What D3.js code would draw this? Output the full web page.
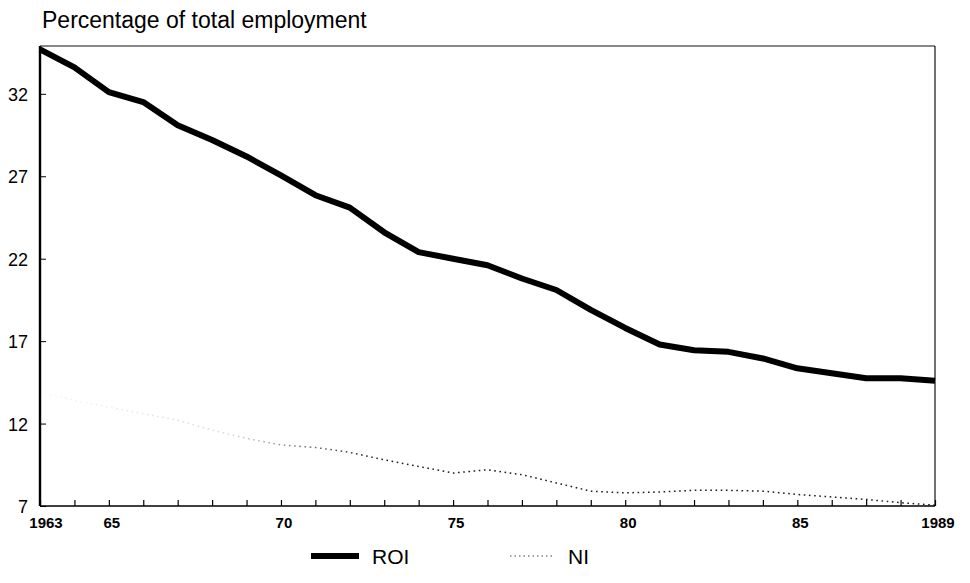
<!DOCTYPE html>
<html>
<head>
<meta charset="utf-8">
<script src="https://cdnjs.cloudflare.com/ajax/libs/d3/7.8.5/d3.min.js"></script>
<style>
  body { margin: 0; background: #fff; }
  svg { font-family: "Liberation Sans", Arial, sans-serif; }
</style>
</head>
<body>
<div id="chart"></div>
<script>

// years and series
var years = d3.range(1963, 1990);
var roi = [34.7, 33.6, 32.1, 31.5, 30.1, 29.2, 28.2, 27.05, 25.85, 25.1,
           23.6, 22.4, 22.0, 21.6, 20.8, 20.1, 18.9, 17.8, 16.8, 16.45,
           16.35, 15.95, 15.35, 15.05, 14.75, 14.75, 14.6];
var ni = [13.9, 13.4, 13.0, 12.6, 12.2, 11.6, 11.1, 10.7, 10.55, 10.25,
          9.8, 9.4, 9.0, 9.2, 8.9, 8.4, 7.9, 7.8, 7.85, 7.95,
          7.95, 7.9, 7.7, 7.55, 7.4, 7.2, 7.05];
var yTicks = [7, 12, 17, 22, 27, 32];
var xLabels = [1963, 1965, 1970, 1975, 1980, 1985, 1989];
var xLabelText = ["1963", "65", "70", "75", "80", "85", "1989"];
var seriesNames = ["ROI", "NI"];

var width = 970, height = 583;
var margin = {top: 46, right: 35, bottom: 77, left: 40};

var svg = d3.select("#chart").append("svg")
            .attr("width", width)
            .attr("height", height);

// scales
var x = d3.scaleLinear()
          .domain([1963, 1989])
          .range([margin.left, width - margin.right]);

var y = d3.scaleLinear()
          .domain([7, 34.9])
          .range([height - margin.bottom, margin.top]);

// title
svg.append("text")
   .attr("x", 42)
   .attr("y", 28)
   .style("font-size", "23px")
   .text("Percentage of total employment");

// frame: thin top and right
svg.append("line")
   .attr("x1", x(1963)).attr("x2", x(1989))
   .attr("y1", y(34.9)).attr("y2", y(34.9))
   .style("stroke", "#111").style("stroke-width", 1.2);
svg.append("line")
   .attr("x1", x(1989)).attr("x2", x(1989))
   .attr("y1", y(34.9)).attr("y2", y(7))
   .style("stroke", "#111").style("stroke-width", 1.2);

// y axis with inside ticks
var yAxis = svg.append("g")
   .attr("transform", "translate(" + x(1963) + ",0)")
   .call(d3.axisRight(y).tickValues(yTicks).tickSize(6).tickFormat(""));
yAxis.select(".domain").remove();
yAxis.append("line")
   .attr("y1", y(34.9)).attr("y2", y(7))
   .style("stroke", "#000").style("stroke-width", 2.4);

svg.append("g")
   .selectAll("text")
   .data(yTicks)
   .enter().append("text")
   .attr("x", 28)
   .attr("y", function(d) { return y(d) + 7; })
   .attr("text-anchor", "end")
   .style("font-size", "18px")
   .text(function(d) { return d; });

// x axis, a tick for every year pointing up
var xAxis = svg.append("g")
   .attr("transform", "translate(0," + y(7) + ")")
   .call(d3.axisTop(x).tickValues(years).tickSize(6).tickFormat(""));
xAxis.select(".domain").remove();
xAxis.selectAll(".tick line").style("stroke-width", 1.2);
xAxis.append("line")
   .attr("x1", x(1963)).attr("x2", x(1989))
   .style("stroke", "#000").style("stroke-width", 1.6);

svg.append("g")
   .selectAll("text")
   .data(xLabels)
   .enter().append("text")
   .attr("x", function(d) { return x(d) + (d == 1963 ? 6 : 3); })
   .attr("y", y(7) + 22)
   .attr("text-anchor", "middle")
   .style("font-size", "15px")
   .style("font-weight", "bold")
   .text(function(d, i) { return xLabelText[i]; });

// the lines
var line = d3.line()
   .x(function(d, i) { return x(years[i]); })
   .y(function(d) { return y(d); });

// NI almost vanishes on the left, like the scan
var grad = svg.append("defs").append("linearGradient")
   .attr("id", "fade")
   .attr("gradientUnits", "userSpaceOnUse")
   .attr("x1", x(1963)).attr("x2", x(1973))
   .attr("y1", 0).attr("y2", 0);
grad.append("stop").attr("offset", 0).attr("stop-color", "#000").attr("stop-opacity", 0.03);
grad.append("stop").attr("offset", 0.55).attr("stop-color", "#000").attr("stop-opacity", 0.15);
grad.append("stop").attr("offset", 0.8).attr("stop-color", "#000").attr("stop-opacity", 0.6);
grad.append("stop").attr("offset", 1).attr("stop-color", "#000").attr("stop-opacity", 0.9);

svg.append("path")
   .datum(ni)
   .attr("d", line)
   .style("fill", "none")
   .style("stroke", "url(#fade)")
   .style("stroke-width", 1.5)
   .style("stroke-dasharray", "1.6,3.6");

svg.append("path")
   .datum(roi)
   .attr("d", line)
   .style("fill", "none")
   .style("stroke", "#000")
   .style("stroke-width", 6)
   .style("stroke-linejoin", "round");

// legend
var legend = svg.append("g").attr("transform", "translate(0,556)");
legend.append("line")
   .attr("x1", 311).attr("x2", 359)
   .style("stroke", "#000").style("stroke-width", 6);
legend.append("text")
   .attr("x", 372).attr("y", 8)
   .style("font-size", "21px")
   .text(seriesNames[0]);
legend.append("line")
   .attr("x1", 510).attr("x2", 555)
   .style("stroke", "#444").style("stroke-width", 1.2)
   .style("stroke-dasharray", "1.5,3");
legend.append("text")
   .attr("x", 568).attr("y", 8)
   .style("font-size", "21px")
   .text(seriesNames[1]);

</script>
</body>
</html>
